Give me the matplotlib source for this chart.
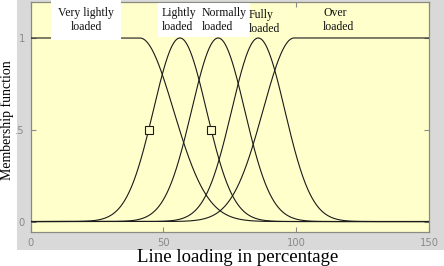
import numpy as np
import matplotlib
matplotlib.use("Agg")
import matplotlib.pyplot as plt
from matplotlib.patches import Rectangle

# membership functions (gaussian): names, centres, widths, shape
mf_labels = ["Very lightly\nloaded", "Lightly\nloaded", "Normally\nloaded",
             "Fully\nloaded", "Over\nloaded"]
mf_centres = [41.1, 56.2, 70.6, 85.7, 99.2]
mf_sigmas = [12.7, 10.0, 10.0, 10.0, 11.7]
mf_shapes = ["left", "gauss", "gauss", "gauss", "right"]

# label anchors (x in data units, y in data units) and alignment
label_x = [20.8, 49.4, 64.5, 82.2, 110.1]
label_y = [1.098, 1.098, 1.098, 1.087, 1.098]
label_ha = ["center", "left", "left", "left", "left"]
label_pad = [5, 2.5, 2.5, None, None]  # white box behind some labels

selected_mf = 1  # "Lightly loaded" shows its half-height handles

xticks = [0, 50, 100, 150]
yticks = [0, 0.5, 1]
yticklabels = ["0", ".5", "1"]

x_range = (0, 150)


def gauss_mf(x, c, s, shape):
    y = np.exp(-(x - c) ** 2 / (2 * s ** 2))
    if shape == "left":
        y[x <= c] = 1.0
    elif shape == "right":
        y[x >= c] = 1.0
    return y


fig = plt.figure(figsize=(4.44, 2.66), dpi=100)
fig.patch.set_facecolor("white")
# grey panel behind the axes
fig.patches.append(Rectangle((17 / 444, 16 / 266), 1, 1, transform=fig.transFigure,
                             facecolor="#d9d9d9", edgecolor="none", zorder=-10))

ax = fig.add_axes([30.7 / 444, 34 / 266, 398.3 / 444, 230 / 266])
ax.set_facecolor("#ffffcc")

x = np.linspace(x_range[0], x_range[1], 1501)
for c, s, shp in zip(mf_centres, mf_sigmas, mf_shapes):
    ax.plot(x, gauss_mf(x, c, s, shp), color="#1a1a1a", lw=0.8, zorder=3)

# handles on selected mf at membership 0.5
c, s = mf_centres[selected_mf], mf_sigmas[selected_mf]
half = s * np.sqrt(2 * np.log(2))
ax.plot([c - half, c + half], [0.5, 0.5], ls="none", marker="s", ms=5.5,
        mfc="#ffffcc", mec="#1a1a1a", mew=0.8, zorder=4)

for lab, lx, ly, ha, pad in zip(mf_labels, label_x, label_y, label_ha, label_pad):
    kw = {}
    if pad:
        kw["bbox"] = dict(facecolor="white", edgecolor="none", pad=pad)
    ax.text(lx, ly, lab, ha=ha, va="center", family="Liberation Serif",
            fontsize=8.5, linespacing=1.25, color="#111111", zorder=5, **kw)

ax.set_xlim(*x_range)
ax.set_ylim(-0.057, 1.196)
ax.set_xticks(xticks)
ax.set_yticks(yticks)
ax.set_yticklabels(yticklabels)
ax.tick_params(direction="in", length=3.6, width=0.8, color="#8a8a8a",
               labelcolor="#8a8a8a", labelsize=7.2, pad=4.2,
               top=True, right=True)
for sp in ax.spines.values():
    sp.set_color("#8a8a80")
    sp.set_linewidth(0.9)

fig.text(7 / 444, 1 - 120 / 266, "Membership function", rotation=90,
         ha="center", va="center", family="Liberation Serif", fontsize=10)
fig.text(237.3 / 444, 1 - 257.7 / 266, "Line loading in percentage",
         ha="center", va="center", family="Liberation Serif", fontsize=13.5)

fig.savefig("out.png", dpi=100)
